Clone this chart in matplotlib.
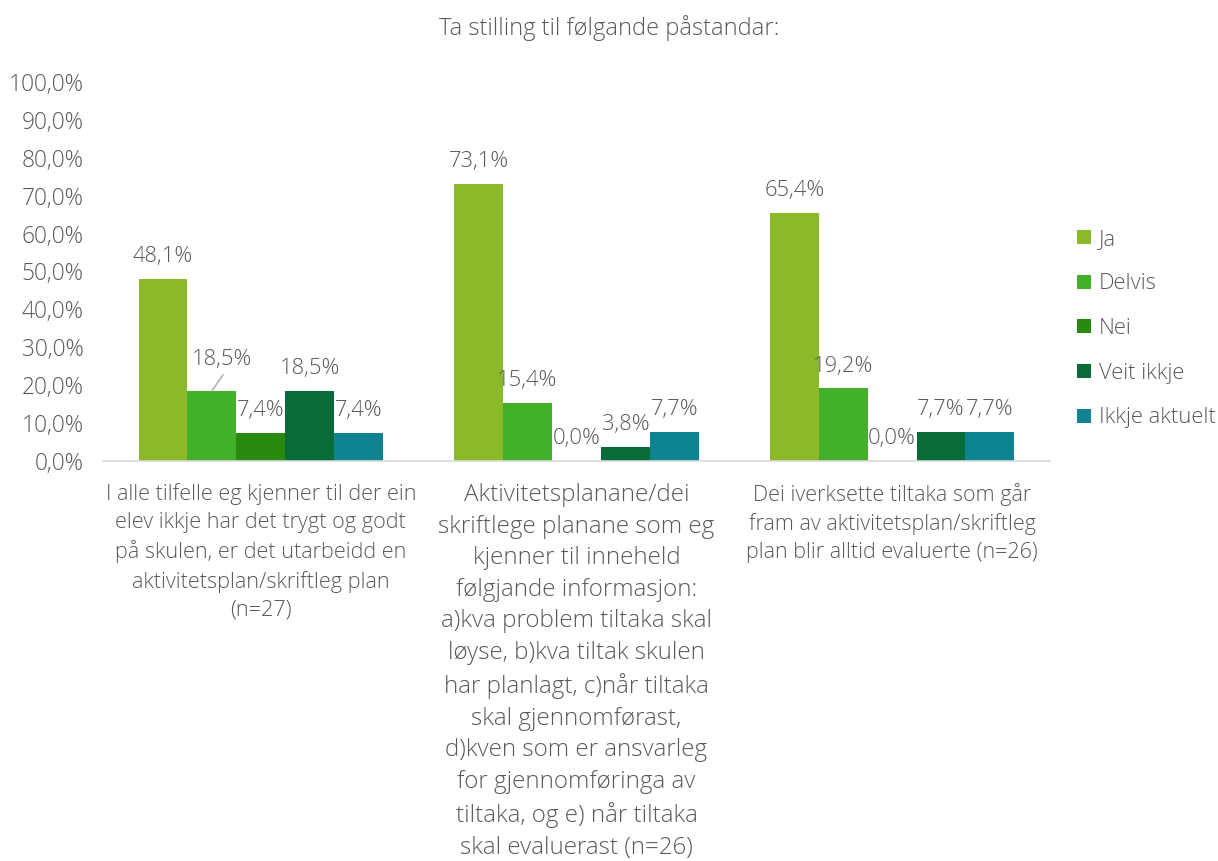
import numpy as np
import matplotlib.pyplot as plt

# ------------------- Data -------------------
categories = [
    "I alle tilfelle eg kjenner til der ein\nelev ikkje har det trygt og godt\npå skulen, er det utarbeidd en\naktivitetsplan/skriftleg plan\n(n=27)",
    "Aktivitetsplanane/dei\nskriftlege planane som eg\nkjenner til inneheld\nfølgjande informasjon:\na)kva problem tiltaka skal\nløyse, b)kva tiltak skulen\nhar planlagt, c)når tiltaka\nskal gjennomførast,\nd)kven som er ansvarleg\nfor gjennomføringa av\ntiltaka, og e) når tiltaka\nskal evaluerast (n=26)",
    "Dei iverksette tiltaka som går\nfram av aktivitetsplan/skriftleg\nplan blir alltid evaluerte (n=26)",
]
series = ["Ja", "Delvis", "Nei", "Veit ikkje", "Ikkje aktuelt"]
ja = [48.1, 73.1, 65.4]
delvis = [18.5, 15.4, 19.2]
nei = [7.4, 0.0, 0.0]
veit_ikkje = [18.5, 3.8, 7.7]
ikkje_aktuelt = [7.4, 7.7, 7.7]
values = [ja, delvis, nei, veit_ikkje, ikkje_aktuelt]
colors = ["#8aba28", "#43b02a", "#2a8a10", "#076b3a", "#0e8490"]
yticks = np.arange(0, 101, 10)

txt = "#595959"
plt.rcParams["font.family"] = ["Open Sans", "DejaVu Sans"]
plt.rcParams["font.weight"] = "light"

fig = plt.figure(figsize=(12.18, 8.61), dpi=100)
ax = fig.add_axes([0.0846, 0.4646, 0.7774, 0.4402])

x = np.arange(len(categories))
w = 0.155
for i, (name, vals, c) in enumerate(zip(series, values, colors)):
    pos = x + (i - 2) * w
    ax.bar(pos, vals, width=w, color=c, label=name)
    for j, (p, v) in enumerate(zip(pos, vals)):
        lbl = f"{v:.1f}%".replace(".", ",")
        if i == 1 and j == 0:
            # label moved up, with leader line to the bar
            ax.plot([p, p + 0.035], [v, v + 4.2], color="#a6a6a6", lw=1)
            ax.text(p + 0.032, v + 6.9, lbl, ha="center", va="baseline",
                    fontsize=15.8, color=txt)
        else:
            ax.text(p, v + 4.4, lbl, ha="center", va="baseline", fontsize=15.8, color=txt)

ax.set_xlim(-0.5, 2.5)
ax.set_ylim(0, 100)
ax.set_yticks(yticks)
ax.set_yticklabels([f"{t:.1f}%".replace(".", ",") for t in yticks])
ax.set_xticks(x)
ax.set_xticklabels(categories, color=txt, linespacing=1.42, va="top")
# the middle category label is set in a larger size, as in the original
for lab, fs in zip(ax.get_xticklabels(), [15.6, 17.4, 15.5]):
    lab.set_fontsize(fs)
ax.tick_params(axis="y", length=0, labelsize=16.4, labelcolor=txt, pad=14)
ax.tick_params(axis="x", length=0, pad=16)
for s in ["top", "right", "left"]:
    ax.spines[s].set_visible(False)
ax.spines["bottom"].set_color("#d9d9d9")
ax.spines["bottom"].set_linewidth(1.2)

fig.text(0.5, 0.968, "Ta stilling til følgande påstandar:", ha="center", va="center",
         fontsize=17.1, color=txt)

leg = ax.legend(loc="upper left", bbox_to_anchor=(1.008, 0.665), frameon=False,
                fontsize=15.8, labelcolor=txt, handlelength=0.62, handleheight=0.62,
                handletextpad=0.35, labelspacing=1.08)

fig.savefig("out.png", dpi=100)
